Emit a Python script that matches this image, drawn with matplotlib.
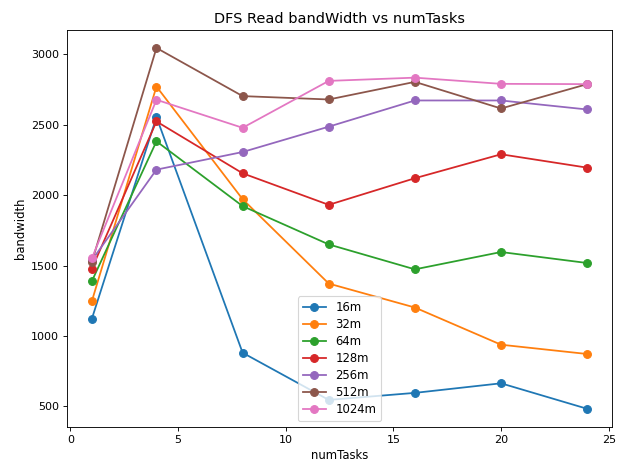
import numpy as np
import matplotlib
matplotlib.use("Agg")
import matplotlib.pyplot as plt

# numTasks on the x axis
num_tasks = [1, 4, 8, 12, 16, 20, 24]

# read bandwidth per block size
bw_16m = [1122, 2554, 881, 546, 596, 664, 483]
bw_32m = [1247, 2771, 1971, 1372, 1202, 938, 872]
bw_64m = [1389, 2382, 1922, 1650, 1473, 1596, 1518]
bw_128m = [1478, 2523, 2155, 1931, 2120, 2290, 2195]
bw_256m = [1537, 2181, 2306, 2486, 2672, 2672, 2608]
bw_512m = [1525, 3045, 2703, 2679, 2804, 2615, 2788]
bw_1024m = [1551, 2677, 2478, 2811, 2834, 2790, 2788]

labels = ["16m", "32m", "64m", "128m", "256m", "512m", "1024m"]
series = [bw_16m, bw_32m, bw_64m, bw_128m, bw_256m, bw_512m, bw_1024m]

DPI = 80
fig, ax = plt.subplots(figsize=(627 / DPI, 467 / DPI), dpi=DPI)

for lab, vals in zip(labels, series):
    ax.plot(num_tasks, vals, marker="o", markersize=7, linewidth=1.6, label=lab)

ax.set_title("DFS Read bandWidth vs numTasks", fontsize=13)
ax.set_xlabel("numTasks", fontsize=10.5)
ax.set_ylabel("bandwidth", fontsize=10.5)
ax.legend(loc="lower center", fontsize=10.5, labelspacing=0.35)

# same frame as the reference
fig.subplots_adjust(left=0.107, right=0.976, top=0.936, bottom=0.086)
plt.savefig("out.png", dpi=DPI)
